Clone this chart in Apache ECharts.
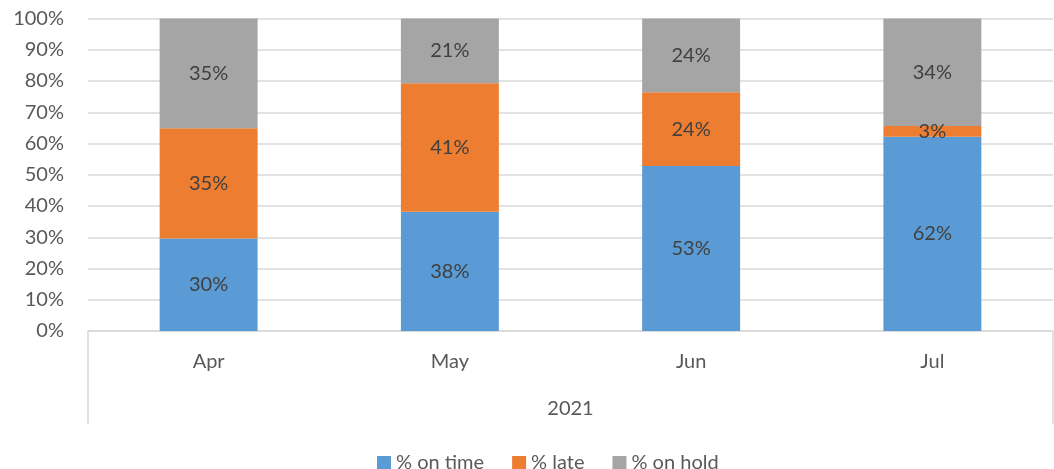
<!DOCTYPE html>
<html>
<head>
<meta charset="utf-8">
<script src="https://cdn.jsdelivr.net/npm/echarts@6/dist/echarts.min.js"></script>
<style>
html, body { margin: 0; padding: 0; background: #fff; }
#chart { width: 1054px; height: 469px; }
</style>
</head>
<body>
<div id="chart"></div>
<script>
var months = ['Apr', 'May', 'Jun', 'Jul'];
var years = ['2021'];
var onTime = [29.6, 38.2, 52.8, 62.2];
var late = [35.3, 41.1, 23.6, 3.4];
var onHold = [35.1, 20.7, 23.6, 34.4];
var yTicks = [0, 10, 20, 30, 40, 50, 60, 70, 80, 90, 100];

var font = 'Lato';
var fs = 20;

function seg(name, data, color) {
    return {
        name: name,
        type: 'bar',
        stack: 'total',
        data: data,
        barWidth: '40.6%',
        itemStyle: { color: color },
        label: {
            show: true,
            position: 'inside',
            color: '#404040',
            fontFamily: font,
            fontSize: fs,
            formatter: function (p) { return Math.round(p.value) + '%'; }
        }
    };
}

var option = {
    animation: false,
    backgroundColor: '#fff',
    grid: { left: 88, right: 1, top: 18.5, bottom: 138, containLabel: false },
    legend: {
        left: 372,
        top: 448,
        icon: 'rect',
        itemWidth: 14,
        itemHeight: 14,
        itemGap: 28,
        textStyle: { color: '#595959', fontFamily: font, fontSize: fs },
        data: ['% on time', '% late', '% on hold']
    },
    xAxis: [{
        type: 'category',
        data: months,
        axisLine: { lineStyle: { color: '#d9d9d9', width: 1.5 } },
        axisTick: { show: false },
        axisLabel: { color: '#595959', fontFamily: font, fontSize: fs, margin: 21 }
    }, {
        type: 'category',
        data: years,
        position: 'bottom',
        axisLine: { show: false },
        axisTick: { show: true, length: 93, lineStyle: { color: '#d9d9d9', width: 1.5 } },
        axisLabel: { color: '#595959', fontFamily: font, fontSize: fs, margin: 68 }
    }],
    yAxis: {
        type: 'value',
        min: yTicks[0],
        max: yTicks[yTicks.length - 1],
        interval: 10,
        axisLine: { show: false },
        axisTick: { show: false },
        splitLine: { lineStyle: { color: '#d9d9d9', width: 1.5 } },
        axisLabel: {
            color: '#595959', fontFamily: font, fontSize: fs, margin: 24,
            formatter: '{value}%'
        }
    },
    series: [
        seg('% on time', onTime, '#5b9bd5'),
        seg('% late', late, '#ed7d31'),
        seg('% on hold', onHold, '#a5a5a5')
    ]
};

var myChart = echarts.init(document.getElementById('chart'));
myChart.setOption(option);
</script>
</body>
</html>
